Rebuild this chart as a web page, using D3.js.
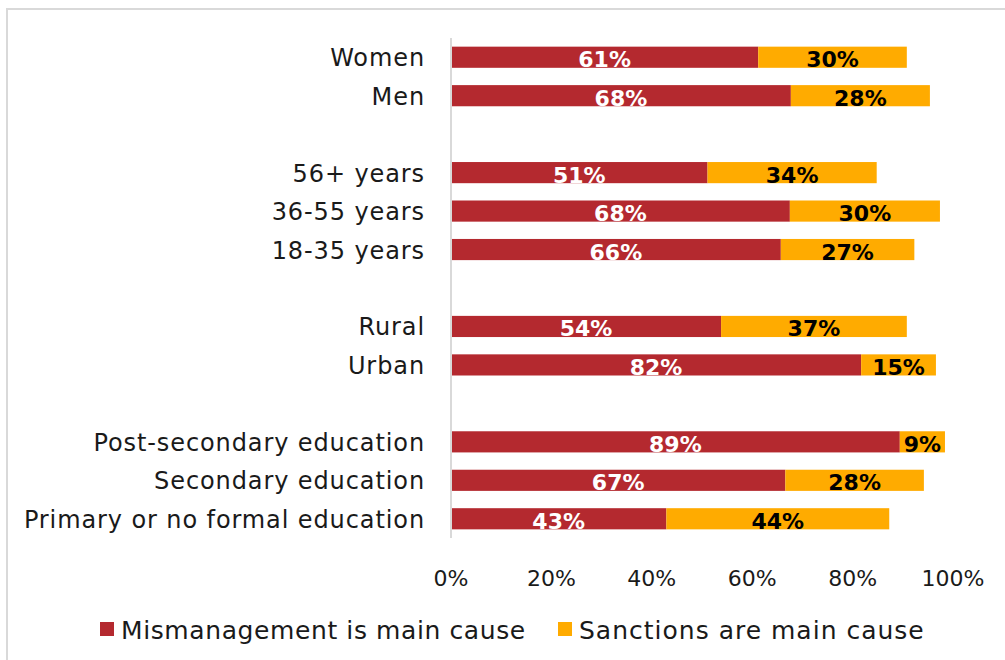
<!DOCTYPE html>
<html>
<head>
<meta charset="utf-8">
<script src="https://cdn.jsdelivr.net/npm/d3@7"></script>
<style>
  body { margin: 0; background: #fff; }
  svg { display: block; font-family: "DejaVu Sans", sans-serif; }
</style>
</head>
<body>
<div id="chart"></div>
<script>
// rows top to bottom, blank strings are the gaps between groups
var categories = ["Women", "Men", "", "56+ years", "36-55 years", "18-35 years", "",
  "Rural", "Urban", "", "Post-secondary education", "Secondary education",
  "Primary or no formal education"];
// shares in percent (labels show them rounded)
var mismanagement = [61.2, 67.7, null, 51.1, 67.5, 65.7, null, 53.8, 81.7, null, 89.4, 66.6, 42.9];
var sanctions = [29.6, 27.7, null, 33.7, 29.9, 26.6, null, 37.0, 14.9, null, 9.0, 27.6, 44.4];
var tickValues = [0, 20, 40, 60, 80, 100];
var seriesNames = ["Mismanagement is main cause", "Sanctions are main cause"];
var colors = ["#B4292F", "#FFAB00"];
var labelColors = ["#fff", "#000"];

var width = 1005, height = 660;
var margins = [38, 52, 122, 451]; // top, right, bottom, left

var svg = d3.select("#chart").append("svg")
  .attr("width", width)
  .attr("height", height);

// outer border, cut off at right and bottom like the original
svg.append("rect")
  .attr("x", 7).attr("y", 9)
  .attr("width", width).attr("height", height)
  .attr("fill", "none")
  .attr("stroke", "#d9d9d9")
  .attr("stroke-width", 2);

var xScale = d3.scaleLinear()
  .domain([0, 100])
  .range([margins[3], width - margins[1]]);

var yScale = d3.scaleBand()
  .domain(d3.range(categories.length))
  .range([margins[0], height - margins[2]])
  .paddingInner(0.45)
  .paddingOuter(0.225);

// stacked rows
var rows = categories.map(function(c, i) {
  return { name: c, index: i, values: [mismanagement[i], sanctions[i]] };
}).filter(function(r) { return r.values[0] !== null; });

var segments = [];
rows.forEach(function(r) {
  var start = 0;
  r.values.forEach(function(v, s) {
    segments.push({ row: r.index, series: s, x0: start, x1: start + v, value: v });
    start += v;
  });
});

svg.selectAll(".bar")
  .data(segments)
  .enter().append("rect")
  .attr("class", "bar")
  .attr("x", function(d) { return xScale(d.x0); })
  .attr("y", function(d) { return yScale(d.row); })
  .attr("width", function(d) { return xScale(d.x1) - xScale(d.x0); })
  .attr("height", yScale.bandwidth())
  .attr("fill", function(d) { return colors[d.series]; });

svg.selectAll(".value")
  .data(segments)
  .enter().append("text")
  .attr("class", "value")
  .attr("x", function(d) { return (xScale(d.x0) + xScale(d.x1)) / 2; })
  .attr("y", function(d) { return yScale(d.row) + yScale.bandwidth() / 2 + 10; })
  .attr("text-anchor", "middle")
  .attr("font-size", 22)
  .attr("font-weight", "bold")
  .attr("fill", function(d) { return labelColors[d.series]; })
  .text(function(d) { return Math.round(d.value) + "%"; });

// vertical axis line
svg.append("line")
  .attr("x1", xScale(0)).attr("x2", xScale(0))
  .attr("y1", margins[0]).attr("y2", height - margins[2])
  .attr("stroke", "#d9d9d9")
  .attr("stroke-width", 2);

// category labels
svg.selectAll(".cat")
  .data(rows)
  .enter().append("text")
  .attr("class", "cat")
  .attr("x", xScale(0) - 26)
  .attr("y", function(d) { return yScale(d.index) + yScale.bandwidth() / 2 + 9; })
  .attr("text-anchor", "end")
  .attr("font-size", 24)
  .attr("letter-spacing", 0.9)
  .attr("fill", "#1a1a1a")
  .text(function(d) { return d.name; });

// x tick labels
svg.selectAll(".tick")
  .data(tickValues)
  .enter().append("text")
  .attr("class", "tick")
  .attr("x", function(d) { return xScale(d); })
  .attr("y", 586)
  .attr("text-anchor", "middle")
  .attr("font-size", 22)
  .attr("fill", "#1a1a1a")
  .text(function(d) { return d + "%"; });

// legend
var legendX = [100, 558];
var legend = svg.selectAll(".legend")
  .data(seriesNames)
  .enter().append("g")
  .attr("class", "legend")
  .attr("transform", function(d, i) { return "translate(" + legendX[i] + ",622)"; });

legend.append("rect")
  .attr("width", 14).attr("height", 14)
  .attr("fill", function(d, i) { return colors[i]; });

legend.append("text")
  .attr("x", 21)
  .attr("y", 17)
  .attr("font-size", 25)
  .attr("letter-spacing", function(d, i) { return i === 0 ? 0.6 : 1.0; })
  .attr("fill", "#1a1a1a")
  .text(function(d) { return d; });
</script>
</body>
</html>
